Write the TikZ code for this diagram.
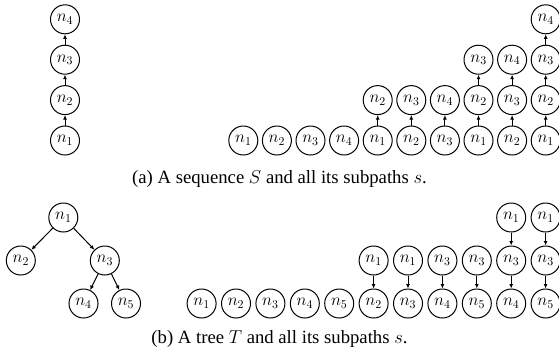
\RequirePackage{fix-cm}
\documentclass[tikz,border=0pt]{standalone}
\usepackage{fontspec}
\setmainfont{Liberation Serif}
\usetikzlibrary{arrows.meta}
\begin{document}
\begin{tikzpicture}[x=1pt,y=-1pt,
  nd/.style={circle,draw,line width=1pt,minimum size=29pt,inner sep=0pt,font=\fontsize{17}{20}\selectfont},
  ar/.style={-{Latex[length=4.5pt,width=4pt]},line width=1pt},
  captext/.style={font=\fontsize{18.7}{22}\selectfont,anchor=base}]
\useasboundingbox (0,0) rectangle (559,360);
% (a) sequence
\node[nd] (s1) at (65,140.5) {$n_1$};
\node[nd] (s2) at (65,100.1) {$n_2$};
\node[nd] (s3) at (65,59.7) {$n_3$};
\node[nd] (s4) at (65,19.3) {$n_4$};
\draw[ar] (s1) -- (s2);
\draw[ar] (s2) -- (s3);
\draw[ar] (s3) -- (s4);
% (a) subpaths
\foreach \k/\seq in {0/{1},1/{2},2/{3},3/{4},4/{1,2},5/{2,3},6/{3,4},7/{1,2,3},8/{2,3,4},9/{1,2,3,4}} {
  \foreach \v [count=\r] in \seq {
    \node[nd] (a\k-\r) at ({243.3+33.6*\k},{140.5-40.4*(\r-1)}) {$n_{\v}$};
    \ifnum\r>1 \pgfmathtruncatemacro\p{\r-1}\draw[ar] (a\k-\p) -- (a\k-\r);\fi
  }
}
\node[captext] (capa) at (279.5,183) {(a) A sequence $S$ and all its subpaths $s$.};
% (b) tree
\node[nd] (t1) at (63.3,217.5) {$n_1$};
\node[nd] (t2) at (20.8,260.5) {$n_2$};
\node[nd] (t3) at (104.8,260.5) {$n_3$};
\node[nd] (t4) at (83.5,303.5) {$n_4$};
\node[nd] (t5) at (126,303.5) {$n_5$};
\draw[ar] (t1) -- (t2);
\draw[ar] (t1) -- (t3);
\draw[ar] (t3) -- (t4);
\draw[ar] (t3) -- (t5);
% (b) subpaths
\foreach \k/\seq in {0/{1},1/{2},2/{3},3/{4},4/{5},5/{2,1},6/{3,1},7/{4,3},8/{5,3},9/{4,3,1},10/{5,3,1}} {
  \foreach \v [count=\r] in \seq {
    \node[nd] (b\k-\r) at ({201.6+34.4*\k},{303.5-43*(\r-1)}) {$n_{\v}$};
    \ifnum\r>1 \pgfmathtruncatemacro\p{\r-1}\draw[ar] (b\k-\r) -- (b\k-\p);\fi
  }
}
\node[captext] (capb) at (279.5,343) {(b) A tree $T$ and all its subpaths $s$.};
\end{tikzpicture}
\end{document}
